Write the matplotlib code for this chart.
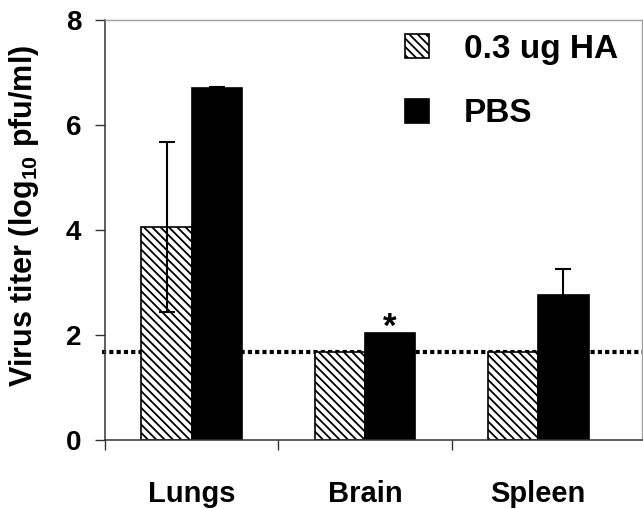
import matplotlib
matplotlib.use("Agg")
import matplotlib.pyplot as plt
import numpy as np

categories = ["Lungs", "Brain", "Spleen"]
series_names = ["0.3 ug HA", "PBS"]
ha_values = [4.06, 1.68, 1.68]
ha_errors = [1.62, 0.0, 0.0]
pbs_values = [6.70, 2.03, 2.76]
pbs_errors = [0.03, 0.0, 0.49]
detection_limit = 1.68
y_ticks = [0, 2, 4, 6, 8]

plt.rcParams['font.family'] = ['Liberation Sans', 'DejaVu Sans']
plt.rcParams['font.weight'] = 'bold'
plt.rcParams['mathtext.fontset'] = 'custom'
plt.rcParams['mathtext.rm'] = 'Liberation Sans:bold'
plt.rcParams['mathtext.bf'] = 'Liberation Sans:bold'
plt.rcParams['mathtext.it'] = 'Liberation Sans:bold'
plt.rcParams['hatch.linewidth'] = 1.3

W, H = 643, 509
fig = plt.figure(figsize=(W / 100, H / 100), dpi=100)
ax = fig.add_axes([105 / W, 1 - 440 / H, (642 - 105) / W, (440 - 20) / H])

x = np.arange(len(categories))
w = 0.29

ax.axhline(detection_limit, color='black', lw=3.0, linestyle=(0, (1, 0.75)),
           dash_capstyle='butt', zorder=1, xmin=-0.005, clip_on=False)

b1 = ax.bar(x - w / 2, ha_values, w, color='white', edgecolor='black',
            hatch='\\\\\\\\', linewidth=1.2, zorder=2, label=series_names[0])
b2 = ax.bar(x + w / 2, pbs_values, w, color='black', edgecolor='black',
            linewidth=1.2, zorder=2, label=series_names[1])

ha_mask = np.array(ha_errors) > 0
ax.errorbar((x - w / 2)[ha_mask], np.array(ha_values)[ha_mask],
            yerr=np.array(ha_errors)[ha_mask], fmt='none', ecolor='black',
            elinewidth=1.5, capsize=6, capthick=1.5, zorder=3)
pbs_mask = np.array(pbs_errors) > 0
ax.errorbar((x + w / 2)[pbs_mask], np.array(pbs_values)[pbs_mask],
            yerr=np.array(pbs_errors)[pbs_mask], fmt='none', ecolor='black',
            elinewidth=1.5, capsize=6, capthick=1.5, zorder=3)

ax.text(x[1] + w / 2, pbs_values[1] - 0.07, '*', ha='center', va='baseline',
        fontsize=25, fontweight='bold')

ax.set_ylim(0, 8)
ax.set_xlim(-0.5, -0.5 + (642 - 105) / 173.3)
ax.set_yticks(y_ticks)
ax.tick_params(axis='y', direction='out', length=7, width=1.0, pad=10,
               labelsize=20, color='#333333')
ax.set_xticks(x)
ax.set_xticklabels(categories, fontsize=21, fontweight='bold')
ax.tick_params(axis='x', which='major', length=0, pad=29)
ax.set_xticks([-0.5, 0.5, 1.5], minor=True)
ax.tick_params(axis='x', which='minor', direction='out', length=7, width=1.0,
               color='#333333')

for s in ['left', 'bottom']:
    ax.spines[s].set_color('#333333')
    ax.spines[s].set_linewidth(1.1)
for s in ['top', 'right']:
    ax.spines[s].set_color('#a0a0a0')
    ax.spines[s].set_linewidth(1.0)

fig.text(24 / W, 1 - 216 / H, r'Virus titer (log$_{10}$ pfu/ml)', rotation=90,
         ha='center', va='center', fontsize=22, fontweight='bold')

leg = ax.legend(loc='upper left', bbox_to_anchor=(405 / W, 1 - 34 / H),
                bbox_transform=fig.transFigure, frameon=False, fontsize=24,
                handlelength=0.72, handleheight=0.72, handletextpad=1.05,
                labelspacing=1.0, borderpad=0, borderaxespad=0)

fig.savefig('out.png', dpi=100)
